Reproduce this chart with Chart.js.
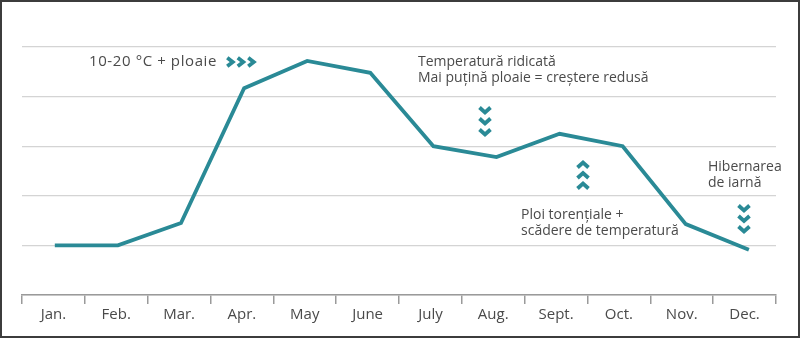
<!DOCTYPE html>
<html>
<head>
<meta charset="utf-8">
<script src="https://cdn.jsdelivr.net/npm/chart.js@4/dist/chart.umd.min.js"></script>
<style>
  html, body { margin: 0; padding: 0; background: #fff; }
  #wrap { width: 800px; height: 338px; position: relative; }
</style>
</head>
<body>
<div id="wrap"><canvas id="c" width="800" height="338"></canvas></div>
<script>
const months = ['Jan.', 'Feb.', 'Mar.', 'Apr.', 'May', 'June', 'July', 'Aug.', 'Sept.', 'Oct.', 'Nov.', 'Dec.'];
const growth = [1.0, 1.0, 1.45, 4.17, 4.72, 4.48, 3.0, 2.78, 3.25, 3.0, 1.43, 0.91];
const yTicks = [0, 1, 2, 3, 4, 5];

const TEAL = '#2a8a96';
const TEXT = '#4a4a4a';
const FONT = '"Open Sans", sans-serif';

function chevron(ctx, cx, cy, dir, w, h) {
  ctx.beginPath();
  if (dir === 'right') {
    ctx.moveTo(cx - w / 2, cy - h / 2);
    ctx.lineTo(cx + w / 2, cy);
    ctx.lineTo(cx - w / 2, cy + h / 2);
  } else if (dir === 'down') {
    ctx.moveTo(cx - w / 2, cy - h / 2);
    ctx.lineTo(cx, cy + h / 2);
    ctx.lineTo(cx + w / 2, cy - h / 2);
  } else {
    ctx.moveTo(cx - w / 2, cy + h / 2);
    ctx.lineTo(cx, cy - h / 2);
    ctx.lineTo(cx + w / 2, cy + h / 2);
  }
  ctx.stroke();
}

const annotations = {
  id: 'annotations',
  afterDraw(chart) {
    const ctx = chart.ctx;
    ctx.save();
    ctx.fillStyle = TEXT;
    ctx.textBaseline = 'middle';
    ctx.textAlign = 'left';
    ctx.font = '15px ' + FONT;
    ctx.letterSpacing = '0.6px';
    ctx.fillText('10-20 °C + ploaie', 89, 62);
    ctx.letterSpacing = '0px';
    ctx.font = '14px ' + FONT;
    ctx.fillText('Temperatură ridicată', 418, 62);
    ctx.fillText('Mai puțină ploaie = creștere redusă', 418, 78);
    ctx.fillText('Hibernarea', 708, 167);
    ctx.fillText('de iarnă', 708, 183);
    ctx.fillText('Ploi torențiale +', 521, 215);
    ctx.fillText('scădere de temperatură', 521, 231);

    ctx.strokeStyle = TEAL;
    ctx.lineWidth = 3.8;
    ctx.lineJoin = 'miter';
    ctx.lineCap = 'butt';
    [230, 240.5, 251].forEach(x => chevron(ctx, x, 62, 'right', 5.5, 8.5));
    [110, 121, 132].forEach(y => chevron(ctx, 485, y, 'down', 11, 5));
    [165, 175.5, 186].forEach(y => chevron(ctx, 583, y, 'up', 11, 5));
    [208, 218.5, 229].forEach(y => chevron(ctx, 744, y, 'down', 11, 5));

    // frame
    ctx.strokeStyle = '#3c3c3c';
    ctx.lineWidth = 2;
    ctx.strokeRect(1, 1, 798, 336);
    ctx.restore();
  }
};

new Chart(document.getElementById('c'), {
  type: 'line',
  data: {
    labels: months,
    datasets: [{
      data: growth.map((v, i) => ({ x: i, y: v })),
      xAxisID: 'xl',
      borderColor: TEAL,
      borderWidth: 3.8,
      pointRadius: 0,
      tension: 0,
      fill: false
    }]
  },
  options: {
    responsive: false,
    animation: false,
    devicePixelRatio: 1,
    layout: { padding: { left: 22, right: 24, top: 47, bottom: 13 } },
    plugins: { legend: { display: false }, tooltip: { enabled: false } },
    scales: {
      x: {
        type: 'category',
        offset: true,
        grid: { offset: true, drawOnChartArea: false, drawTicks: true, tickLength: 9, color: '#9a9a9a', lineWidth: 1.5 },
        border: { display: true, color: '#9a9a9a', width: 1.5 },
        ticks: { color: TEXT, font: { family: FONT, size: 15 }, padding: 2, maxRotation: 0, autoSkip: false },
        afterFit(s) { s.height = 30; }
      },
      xl: {
        type: 'linear',
        position: 'bottom',
        min: -0.52,
        max: 11.43,
        display: false
      },
      y: {
        min: 0, max: 5,
        afterBuildTicks(s) { s.ticks = yTicks.map(v => ({ value: v })); },
        ticks: { display: false },
        grid: { color: '#d4d4d4', lineWidth: 1.2, drawTicks: false },
        border: { display: false },
        afterFit(s) { s.width = 0; }
      }
    }
  },
  plugins: [annotations]
});
</script>
</body>
</html>
